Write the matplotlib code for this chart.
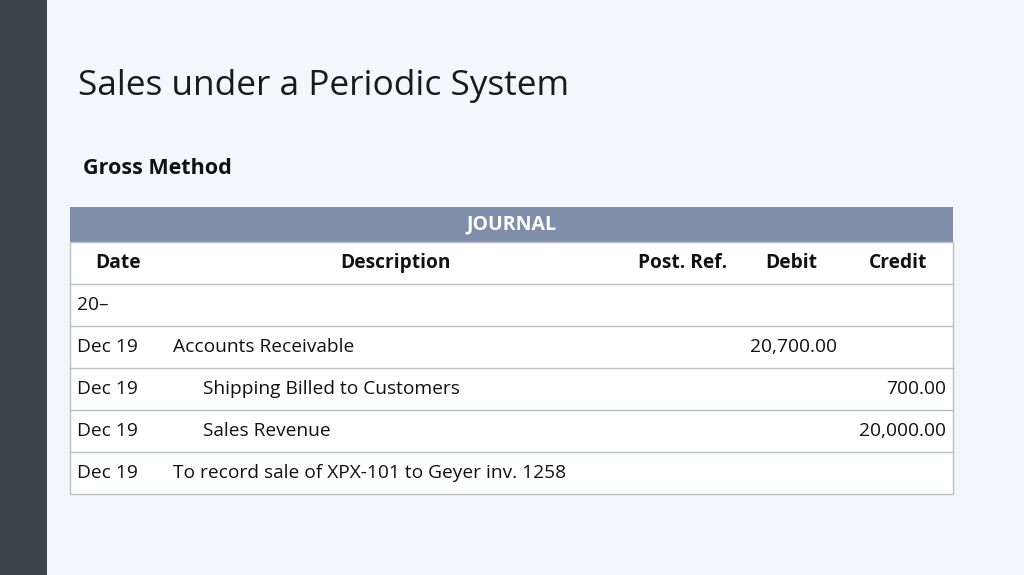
import matplotlib
matplotlib.use("Agg")
import matplotlib.pyplot as plt
from matplotlib.patches import Rectangle

plt.rcParams['font.family'] = ['Open Sans', 'DejaVu Sans']

title = "Sales under a Periodic System"
subtitle = "Gross Method"
journal_title = "JOURNAL"
headers = ["Date", "Description", "Post. Ref.", "Debit", "Credit"]
dates = ["20–", "Dec 19", "Dec 19", "Dec 19", "Dec 19"]
descriptions = ["", "Accounts Receivable", "Shipping Billed to Customers",
                "Sales Revenue", "To record sale of XPX-101 to Geyer inv. 1258"]
indented = [False, False, True, True, False]
debits = ["", "20,700.00", "", "", ""]
credits = ["", "", "700.00", "20,000.00", ""]

fig = plt.figure(figsize=(10.24, 5.75), dpi=100)
ax = fig.add_axes([0, 0, 1, 1])
ax.set_xlim(0, 1024)
ax.set_ylim(575, 0)
ax.axis('off')
fig.patch.set_facecolor('#f1f7fa')

ax.add_patch(Rectangle((0, 0), 47, 575, color='#3b434c', lw=0))
ax.text(78, 86, title, fontsize=25.4, va='center', ha='left', color='#1a1a1a')
ax.text(83, 168, subtitle, fontsize=15.5, fontweight='bold', va='center', ha='left', color='#111111')

x0, x1 = 70, 953
ax.add_patch(Rectangle((x0, 207), x1 - x0, 35, color='#7f8fa9', lw=0))
ax.text((x0 + x1) / 2, 224.5, journal_title, color='white', fontsize=14, fontweight='bold',
        ha='center', va='center')
ax.add_patch(Rectangle((x0, 242), x1 - x0, 252, facecolor='white', edgecolor='#b9c0c8', lw=1))

fs = 13.8
hy = 263
hx = [118, 396, 683, 791, 898]
for h, x in zip(headers, hx):
    ax.text(x, hy, h, fontsize=fs, fontweight='bold', ha='center', va='center', color='#111111')

row_h = 42
top = 284
for i in range(len(dates)):
    y0 = top + i * row_h
    ax.plot([x0, x1], [y0, y0], color='#b9c0c8', lw=1)
    yc = y0 + row_h / 2
    ax.text(77, yc, dates[i], fontsize=fs, ha='left', va='center', color='#111111')
    ax.text(203 if indented[i] else 173, yc, descriptions[i], fontsize=fs,
            ha='left', va='center', color='#111111')
    ax.text(837, yc, debits[i], fontsize=fs, ha='right', va='center', color='#111111')
    ax.text(946, yc, credits[i], fontsize=fs, ha='right', va='center', color='#111111')

fig.savefig("out.png", dpi=100, facecolor=fig.get_facecolor())
